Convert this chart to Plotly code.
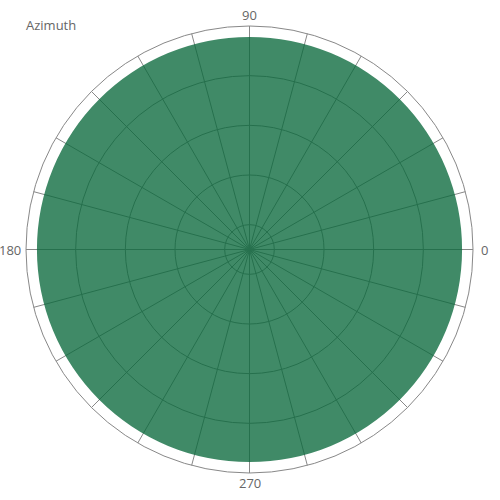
import plotly.graph_objects as go

directions = [0]
magnitudes = [4.78]
sector_widths = [360]
angle_ticks = [0, 15, 30, 45, 60, 75, 90, 105, 120, 135, 150, 165,
               180, 195, 210, 225, 240, 255, 270, 285, 300, 315, 330, 345]
radial_ticks = [1, 2, 3, 4]
cardinal_labels = ["0", "90", "180", "270"]

fig = go.Figure()
fig.add_trace(go.Barpolar(
    r=magnitudes,
    theta=directions,
    width=sector_widths,
    marker=dict(color="rgba(10,105,60,0.78)", line=dict(width=0)),
    showlegend=False,
    hoverinfo="skip",
))

# label placement (paper coords around the polar domain)
label_pos = {
    "0": dict(x=1.013, y=0.5, xanchor="left", yanchor="middle"),
    "90": dict(x=0.5, y=1.025, xanchor="center", yanchor="middle"),
    "180": dict(x=-0.007, y=0.5, xanchor="right", yanchor="middle"),
    "270": dict(x=0.5, y=-0.023, xanchor="center", yanchor="middle"),
}
for lab in cardinal_labels:
    fig.add_annotation(text=lab, xref="paper", yref="paper", showarrow=False,
                       font=dict(size=13, color="#666666"), **label_pos[lab])

fig.update_layout(
    width=500, height=500,
    margin=dict(l=26, r=27, t=26, b=27),
    paper_bgcolor="white",
    plot_bgcolor="white",
    font=dict(family="Open Sans", color="#666666", size=12),
    title=dict(text="Azimuth", x=26 / 500, xanchor="left", xref="container",
               y=1 - 25 / 500, yanchor="middle", yref="container",
               font=dict(size=13, color="#666666")),
    polar=dict(
        bgcolor="white",
        bargap=0,
        radialaxis=dict(range=[0.5, 5], tickvals=radial_ticks, showticklabels=False,
                        ticks="", showline=False, gridcolor="#888888", gridwidth=1),
        angularaxis=dict(direction="counterclockwise", rotation=0,
                         tickmode="array", tickvals=angle_ticks, showticklabels=False,
                         ticks="", showline=True, linecolor="#888888", linewidth=1,
                         gridcolor="#888888", gridwidth=1),
    ),
)

fig.write_html("out.html", config={"displayModeBar": False},
               post_script="document.body.style.margin='0';")
